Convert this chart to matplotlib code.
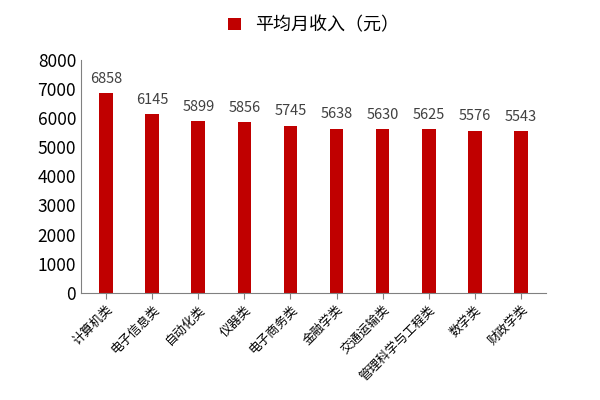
import matplotlib
matplotlib.use("Agg")
import matplotlib.pyplot as plt

plt.rcParams['font.family'] = ['Noto Sans CJK SC', 'DejaVu Sans']

categories = ['计算机类', '电子信息类', '自动化类', '仪器类', '电子商务类', '金融学类',
              '交通运输类', '管理科学与工程类', '数学类', '财政学类']
values = [6858, 6145, 5899, 5856, 5745, 5638, 5630, 5625, 5576, 5543]
yticks = [0, 1000, 2000, 3000, 4000, 5000, 6000, 7000, 8000]

fig = plt.figure(figsize=(6, 4), dpi=100)
ax = fig.add_axes([0.135, 0.268, 0.775, 0.582])
ax.bar(range(len(values)), values, width=0.3, color='#C00000', label='平均月收入（元）')
for i, v in enumerate(values):
    ax.text(i, v + 250, str(v), ha='center', va='bottom', fontsize=10.5, color='#404040')
ax.set_ylim(0, 8000)
ax.set_xlim(-0.55, len(values) - 0.45)
ax.set_yticks(yticks)
ax.tick_params(axis='y', labelsize=12.5, length=0)
ax.set_xticks(range(len(values)))
ax.set_xticklabels(categories, rotation=45, ha='right', rotation_mode='anchor', fontsize=9)
ax.tick_params(axis='x', length=4, color='#808080')
for s in ['top', 'right']:
    ax.spines[s].set_visible(False)
for s in ['left', 'bottom']:
    ax.spines[s].set_color('#808080')
ax.legend(loc='lower center', bbox_to_anchor=(0.5, 1.04), frameon=False, fontsize=13,
          handlelength=0.7, handleheight=0.7)
fig.savefig('out.png')
